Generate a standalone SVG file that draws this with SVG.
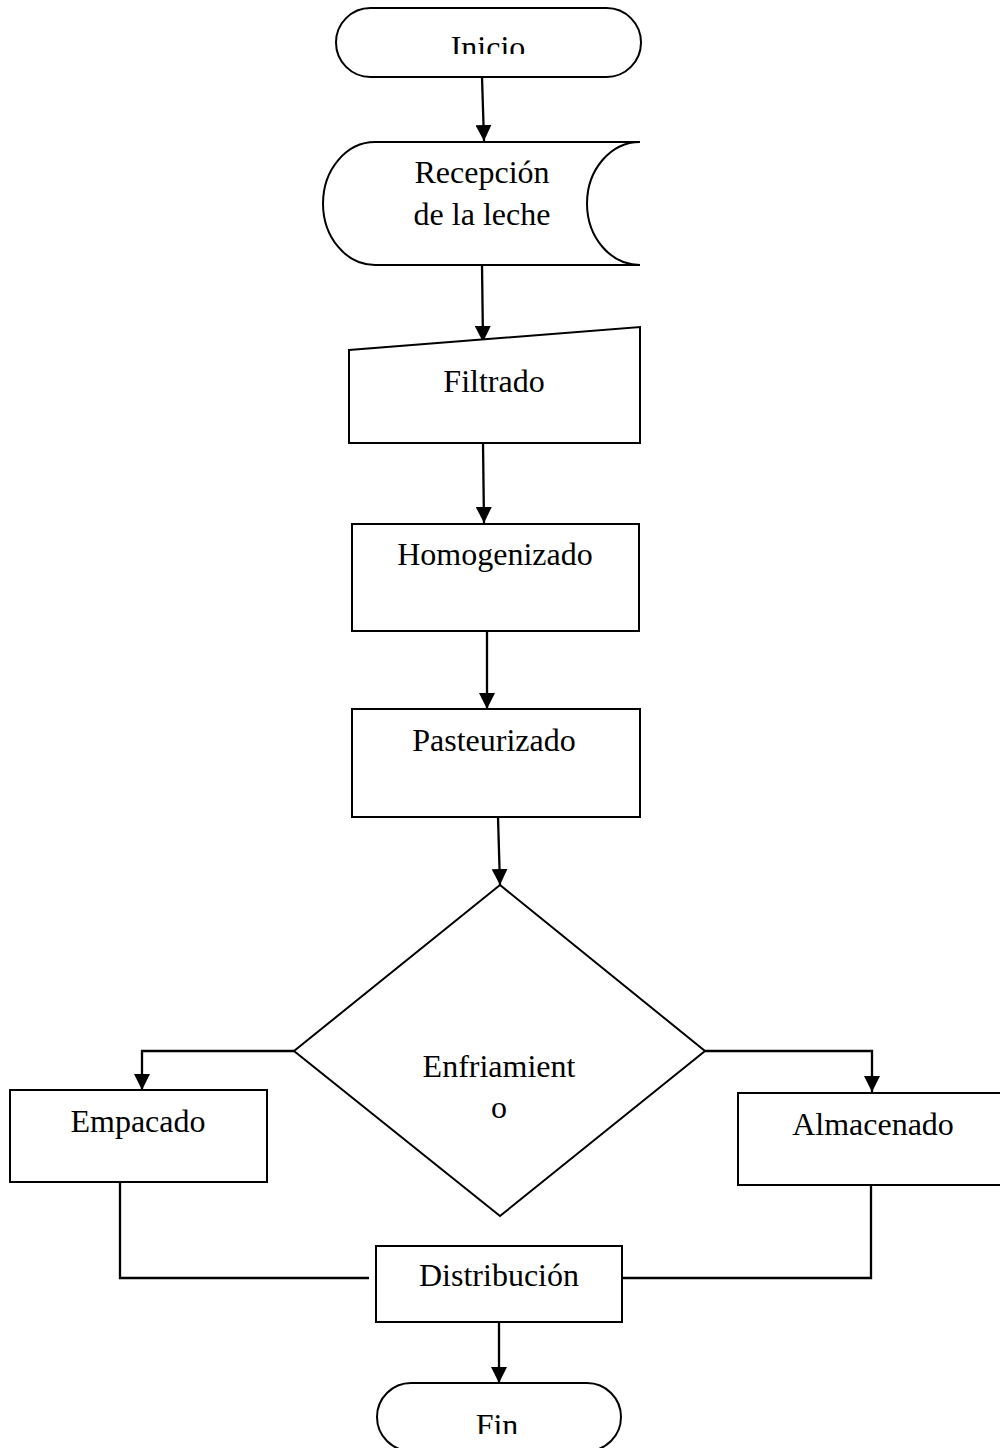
<svg xmlns="http://www.w3.org/2000/svg" width="1000" height="1448" viewBox="0 0 1000 1448">
<style>
.s{fill:#fff;stroke:#000;stroke-width:2}
.t{font-family:"Liberation Serif","Times New Roman",serif;font-size:32px;fill:#000;text-anchor:middle}
.c{fill:none;stroke:#000;stroke-width:2.3}
</style>
<defs>
<marker id="a" markerUnits="userSpaceOnUse" markerWidth="16" markerHeight="16" refX="16" refY="8" orient="auto" viewBox="0 0 16 16">
<path d="M0,0 L16,8 L0,16 Z" fill="#000"/>
</marker>
<clipPath id="cInicio"><rect x="330" y="0" width="320" height="54"/></clipPath>
<clipPath id="cFin"><rect x="370" y="1380" width="260" height="54"/></clipPath>
</defs>
<g id="connectors">
<path class="c" d="M482,77 L484,141" marker-end="url(#a)"/>
<path class="c" d="M482,265 L483,342" marker-end="url(#a)"/>
<path class="c" d="M483,443 L484,523" marker-end="url(#a)"/>
<path class="c" d="M487,631 L487,709" marker-end="url(#a)"/>
<path class="c" d="M498,817 L500,885" marker-end="url(#a)"/>
<path class="c" d="M294,1051 L142,1051 L142,1090" marker-end="url(#a)"/>
<path class="c" d="M705,1051 L872,1051 L872,1092" marker-end="url(#a)"/>
<path class="c" d="M120,1182 L120,1278 L369,1278"/>
<path class="c" d="M871,1182 L871,1278 L623,1278"/>
<path class="c" d="M499,1322 L499,1383" marker-end="url(#a)"/>
</g>
<g id="inicio">
<rect class="s" x="336" y="8" width="305" height="69" rx="34.5" ry="34.5"/>
<text class="t" x="488" y="58" clip-path="url(#cInicio)">Inicio</text>
</g>
<g id="recepcion">
<path class="s" d="M640,142 L375,142 A52,61.5 0 0 0 375,265 L640,265"/>
<path class="c" style="stroke-width:2" d="M640,142 A53,61.5 0 0 0 640,265"/>
<text class="t" x="482" y="183">Recepción</text>
<text class="t" x="482" y="225">de la leche</text>
</g>
<g id="filtrado">
<path class="s" d="M349,350 L640,327 L640,443 L349,443 Z"/>
<text class="t" x="494" y="392">Filtrado</text>
</g>
<g id="homogenizado">
<rect class="s" x="352" y="524" width="287" height="107"/>
<text class="t" x="495" y="565">Homogenizado</text>
</g>
<g id="pasteurizado">
<rect class="s" x="352" y="709" width="288" height="108"/>
<text class="t" x="494" y="751">Pasteurizado</text>
</g>
<g id="enfriamiento">
<path class="s" d="M500,885 L705,1051 L500,1216 L294,1051 Z"/>
<text class="t" x="499" y="1077">Enfriamient</text>
<text class="t" x="499" y="1118">o</text>
</g>
<g id="empacado">
<rect class="s" x="10" y="1090" width="257" height="92"/>
<text class="t" x="138" y="1132">Empacado</text>
</g>
<g id="almacenado">
<rect class="s" x="738" y="1093" width="270" height="92"/>
<text class="t" x="873" y="1135">Almacenado</text>
</g>
<g id="distribucion">
<rect class="s" x="376" y="1246" width="246" height="76"/>
<text class="t" x="499" y="1286">Distribución</text>
</g>
<g id="fin">
<rect class="s" x="377" y="1383" width="244" height="68" rx="34" ry="34"/>
<text class="t" x="497" y="1436" clip-path="url(#cFin)">Fin</text>
</g>
</svg>
